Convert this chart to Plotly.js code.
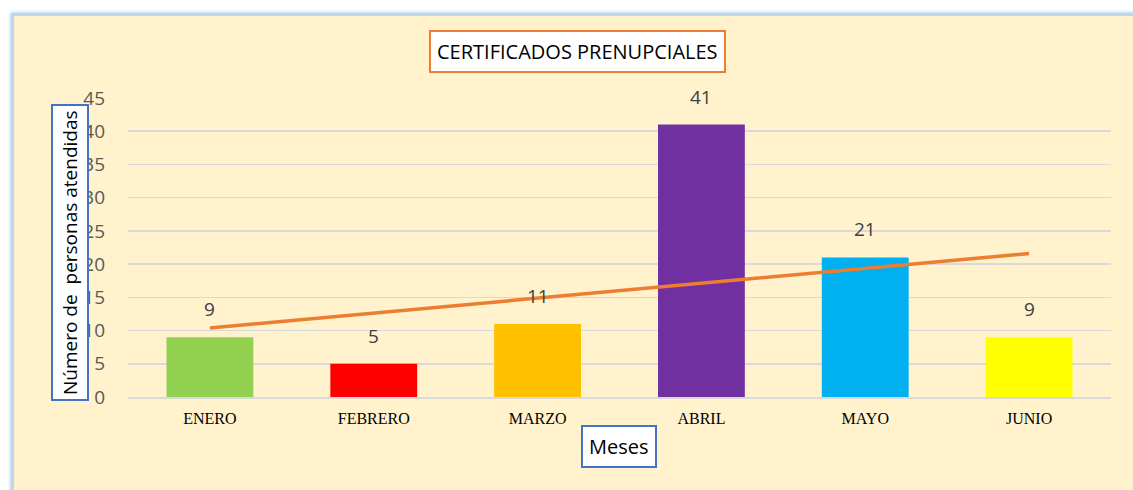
<!DOCTYPE html>
<html>
<head>
<meta charset="utf-8">
<script src="https://cdn.plot.ly/plotly-3.0.1.min.js"></script>
<style>
  html, body { margin:0; padding:0; background:#ffffff; width:1133px; height:490px; overflow:hidden; }
  #frame { position:absolute; left:11px; top:13px; width:1140px; height:490px; background:#FFF2CC;
           border:3px solid #BDD7EE; box-shadow:0 0 4px #9DC3E6; }
  #chart { position:absolute; left:0; top:0; width:1133px; height:490px; }
</style>
</head>
<body>
<div id="frame"></div>
<div id="chart"></div>
<script>
const months = ["ENERO", "FEBRERO", "MARZO", "ABRIL", "MAYO", "JUNIO"];
const persons = [9, 5, 11, 41, 21, 9];
const barColors = ["#92D050", "#FF0000", "#FFC000", "#7030A0", "#00B0F0", "#FFFF00"];
const trendMonths = ["ENERO", "JUNIO"];
const trendValues = [10.4, 21.6];
const yTicks = [0, 5, 10, 15, 20, 25, 30, 35, 40, 45];

const bars = {
  type: "bar", x: months, y: persons,
  marker: { color: barColors, line: { width: 0 } },
  hoverinfo: "x+y", showlegend: false
};
const trend = {
  type: "scatter", mode: "lines", x: trendMonths, y: trendValues,
  line: { color: "#ED7D31", width: 3.5 }, showlegend: false
};

const labelAnns = months.map((m, i) => ({
  x: m, y: persons[i], xref: "x", yref: "y", text: String(persons[i]),
  showarrow: false, yanchor: "bottom", yshift: 13,
  font: { family: "Open Sans, sans-serif", size: 19, color: "#404040" }
}));

const layout = {
  width: 1133, height: 490,
  margin: { l: 128, r: 22, t: 98, b: 93 },
  paper_bgcolor: "rgba(0,0,0,0)", plot_bgcolor: "rgba(0,0,0,0)",
  bargap: 0.47,
  xaxis: {
    type: "category", showgrid: false, zeroline: false,
    showline: true, linecolor: "#D9D9D9", linewidth: 2,
    ticks: "", ticklabelstandoff: 6,
    tickfont: { family: "Liberation Serif, serif", size: 16, color: "#000000" }
  },
  yaxis: {
    range: [0, 45], tickvals: yTicks, ticktext: yTicks.map(String),
    showgrid: true, gridcolor: "#D9D9D9", gridwidth: 1.5,
    zeroline: false, showline: false, ticks: "", ticklabelstandoff: 22,
    tickfont: { family: "Open Sans, sans-serif", size: 19, color: "#595959" }
  },
  annotations: labelAnns.concat([
    { xref: "paper", yref: "paper", x: 0.4568, y: 1.157, xanchor: "center", yanchor: "middle",
      text: "CERTIFICADOS PRENUPCIALES", showarrow: false,
      bgcolor: "#FFFFFF", bordercolor: "#ED7D31", borderwidth: 2, borderpad: 6,
      font: { family: "Open Sans, sans-serif", size: 20, color: "#000000" } },
    { xref: "paper", yref: "paper", x: -0.059, y: 0.4816, xanchor: "center", yanchor: "middle",
      text: "Número de  personas atendidas", textangle: -90, showarrow: false,
      bgcolor: "#FFFFFF", bordercolor: "#4472C4", borderwidth: 2, borderpad: 4,
      font: { family: "Open Sans, sans-serif", size: 19, color: "#000000" } },
    { xref: "paper", yref: "paper", x: 0.4995, y: -0.1639, xanchor: "center", yanchor: "middle",
      text: "Meses", showarrow: false,
      bgcolor: "#FFFFFF", bordercolor: "#4472C4", borderwidth: 2, borderpad: 6,
      font: { family: "Open Sans, sans-serif", size: 20, color: "#000000" } }
  ])
};

Plotly.newPlot("chart", [bars, trend], layout, { displayModeBar: false, staticPlot: true });
</script>
</body>
</html>
